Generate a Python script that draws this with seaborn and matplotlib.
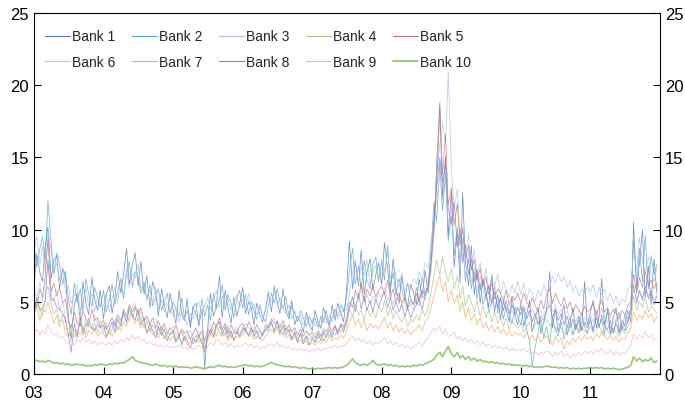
import numpy as np
import pandas as pd
import matplotlib
matplotlib.use("Agg")
import matplotlib.pyplot as plt
from matplotlib.lines import Line2D
import seaborn as sns

# Semi-monthly observations, Jan 2003 - Dec 2011 (24 per year)
dates = pd.date_range("2003-01-01", periods=216, freq="SMS")

bank1 = [
    6.1, 8.3, 7.0, 6.4, 8.9, 10.2, 6.6, 7.9, 8.2, 5.9, 7.3, 6.8, 3.9, 2.4, 4.8, 5.6, 3.7, 6.4, 4.9, 4.1, 6.7, 5.2, 4.4, 5.8,
    3.8, 5.5, 6.1, 4.2, 5.3, 7.1, 5.6, 6.9, 8.7, 6.2, 7.6, 8.4, 6.1, 7.8, 5.5, 6.8, 4.6, 6.4, 5.7, 4.0, 5.9, 4.8, 3.9, 5.6,
    4.4, 3.5, 5.8, 4.1, 3.7, 5.2, 3.2, 4.6, 4.9, 3.3, 4.5, 0.4, 3.1, 5.6, 4.0, 4.7, 6.8, 3.9, 5.8, 4.6, 3.5, 5.3, 4.0, 4.8,
    6.0, 4.2, 5.0, 4.6, 3.4, 4.9, 4.1, 3.6, 4.5, 5.7, 4.3, 6.1, 5.0, 4.2, 5.9, 4.4, 3.8, 5.1, 3.4, 4.0, 3.6, 2.9, 4.3, 3.5,
    3.0, 4.4, 3.6, 3.2, 4.6, 3.9, 3.3, 4.8, 3.7, 4.9, 4.2, 3.6, 6.0, 9.2, 5.9, 7.8, 6.1, 8.6, 5.5, 7.0, 8.0, 5.8, 6.9, 7.7,
    6.2, 9.1, 7.3, 5.6, 8.0, 6.0, 4.9, 6.8, 5.4, 4.6, 6.2, 5.7, 4.8, 6.6, 5.3, 7.2, 5.6, 7.4, 9.8, 14.5, 18.8, 12.2, 15.1, 9.6,
    12.6, 7.4, 9.9, 6.3, 12.6, 7.8, 6.1, 8.9, 5.5, 7.2, 4.9, 6.6, 5.8, 4.6, 6.9, 4.3, 5.5, 3.8, 5.0, 4.5, 3.6, 5.3, 4.0, 3.4,
    4.9, 3.3, 4.2, 5.1, 2.9, 3.8, 4.6, 2.8, 3.6, 4.4, 7.1, 3.2, 4.5, 2.9, 3.9, 4.8, 2.7, 3.5, 4.6, 3.1, 4.0, 3.0, 6.4, 3.4,
    4.3, 5.1, 3.2, 4.0, 6.6, 3.4, 4.4, 2.8, 3.9, 4.6, 2.9, 3.7, 3.3, 4.4, 3.6, 10.5, 5.8, 7.7, 10.0, 5.3, 7.5, 4.8, 8.0, 5.6,
]
bank2 = [
    9.0, 7.4, 8.7, 9.5, 7.8, 12.0, 9.1, 6.9, 8.4, 7.6, 6.2, 7.1, 5.2, 4.1, 6.3, 4.9, 5.9, 4.4, 6.6, 5.5, 4.7, 6.0, 5.3, 4.6,
    5.8, 4.3, 5.1, 6.2, 4.8, 5.7, 6.6, 5.2, 6.9, 7.8, 6.0, 7.1, 6.7, 5.6, 6.4, 5.1, 6.2, 4.7, 5.3, 5.9, 4.4, 5.0, 5.6, 4.2,
    5.0, 4.5, 4.0, 5.3, 3.9, 4.4, 3.5, 4.7, 4.1, 3.6, 5.2, 4.0, 4.8, 3.7, 5.6, 4.5, 5.1, 6.2, 4.4, 5.5, 4.9, 3.9, 5.2, 5.8,
    4.6, 5.5, 4.1, 5.0, 4.4, 3.8, 4.8, 4.0, 3.6, 4.7, 5.6, 4.9, 5.9, 5.0, 4.5, 5.4, 4.0, 4.7, 4.2, 3.6, 4.4, 3.9, 3.3, 4.0,
    3.5, 3.9, 3.2, 4.0, 3.6, 4.4, 3.4, 3.9, 4.5, 4.0, 4.8, 4.3, 5.4, 7.1, 8.7, 6.2, 7.5, 5.8, 7.9, 6.5, 5.9, 7.6, 8.1, 6.4,
    7.8, 6.5, 8.9, 6.1, 7.0, 5.4, 6.6, 5.9, 5.0, 6.3, 5.2, 4.8, 6.0, 5.1, 6.7, 5.5, 6.3, 8.4, 11.9, 10.6, 14.6, 11.3, 13.9, 9.2,
    11.0, 8.2, 10.1, 7.5, 9.4, 6.4, 8.0, 5.9, 7.1, 5.2, 6.3, 4.8, 5.6, 4.3, 5.0, 6.1, 4.2, 5.3, 3.8, 4.7, 4.1, 3.5, 4.6, 3.9,
    3.4, 4.5, 3.0, 2.3, 0.6, 1.7, 2.9, 3.8, 2.5, 3.3, 2.1, 3.9, 3.1, 2.6, 3.6, 2.4, 3.2, 4.0, 2.7, 3.5, 2.9, 4.2, 3.3, 2.8,
    3.9, 2.9, 4.4, 3.3, 3.8, 2.7, 4.5, 3.2, 2.8, 3.7, 4.3, 3.0, 4.1, 3.5, 4.8, 9.3, 6.1, 8.7, 6.4, 9.6, 5.9, 8.2, 6.9, 7.6,
]
bank3 = [
    8.4, 9.5, 7.6, 8.8, 7.2, 9.9, 8.5, 7.0, 7.7, 6.5, 7.4, 5.6, 6.1, 4.9, 5.5, 6.2, 4.4, 5.1, 5.9, 4.7, 5.6, 4.3, 5.4, 5.0,
    4.7, 5.6, 4.3, 5.2, 6.0, 4.9, 6.5, 5.4, 7.3, 6.0, 7.0, 6.6, 7.6, 5.9, 6.3, 5.3, 5.8, 5.0, 6.0, 4.5, 5.1, 4.3, 4.9, 4.6,
    4.0, 4.6, 3.6, 4.3, 3.9, 3.4, 4.2, 3.8, 4.4, 5.0, 4.1, 4.7, 5.3, 4.5, 5.1, 5.8, 4.6, 5.4, 4.8, 5.2, 4.4, 4.9, 5.5, 4.6,
    5.2, 4.6, 5.6, 4.3, 4.9, 4.1, 4.6, 3.9, 4.5, 5.3, 5.0, 5.8, 4.7, 5.3, 4.6, 4.2, 4.8, 3.8, 4.4, 3.6, 4.1, 3.4, 3.9, 3.3,
    3.8, 3.3, 3.6, 3.1, 3.9, 3.5, 4.0, 3.6, 4.3, 3.8, 4.1, 4.6, 4.4, 5.6, 7.1, 7.9, 6.3, 7.4, 6.8, 7.9, 6.2, 7.0, 7.5, 6.6,
    8.0, 7.1, 8.4, 6.6, 7.5, 6.9, 6.0, 7.0, 5.6, 6.3, 5.9, 6.6, 6.2, 7.1, 6.5, 7.7, 7.3, 9.1, 10.4, 13.6, 15.9, 17.4, 16.0, 20.9,
    14.2, 11.5, 12.8, 9.3, 10.2, 8.0, 9.7, 7.2, 8.6, 6.7, 7.7, 6.2, 7.3, 5.8, 6.8, 6.1, 6.9, 5.5, 6.4, 5.9, 5.3, 6.2, 5.6, 6.4,
    5.5, 6.3, 5.2, 5.9, 5.6, 5.0, 5.8, 5.4, 6.2, 5.7, 6.0, 6.8, 6.3, 7.0, 6.4, 6.7, 6.0, 6.5, 5.7, 6.1, 5.4, 5.9, 5.6, 6.0,
    5.7, 6.2, 5.3, 6.0, 5.5, 5.9, 5.1, 5.6, 4.9, 5.4, 4.7, 5.2, 5.0, 5.8, 6.1, 8.6, 7.2, 9.4, 7.8, 7.0, 8.1, 6.9, 6.4, 7.3,
]
bank4 = [
    4.3, 5.0, 4.6, 4.0, 5.3, 6.1, 4.8, 4.2, 4.5, 3.6, 4.1, 3.7, 2.6, 3.4, 3.0, 2.7, 3.6, 3.2, 2.8, 3.9, 3.1, 3.5, 2.9, 3.3,
    2.9, 3.4, 2.7, 3.1, 3.7, 3.0, 3.5, 4.1, 3.6, 4.4, 3.9, 4.6, 3.7, 4.0, 3.2, 3.7, 2.9, 3.4, 3.1, 2.7, 3.3, 2.5, 2.9, 2.7,
    3.0, 2.4, 2.7, 2.9, 2.3, 2.6, 2.4, 2.1, 2.7, 2.5, 2.2, 1.9, 2.5, 2.9, 3.2, 2.6, 3.3, 3.0, 2.7, 3.2, 2.5, 2.8, 3.1, 2.6,
    2.9, 3.2, 2.6, 3.0, 2.8, 2.5, 3.0, 2.6, 3.1, 3.0, 3.5, 2.9, 3.3, 3.1, 2.7, 3.2, 2.8, 2.5, 2.9, 2.4, 2.8, 2.3, 2.6, 2.4,
    2.6, 2.2, 2.5, 2.7, 2.3, 2.8, 2.6, 2.9, 2.7, 3.1, 2.9, 3.2, 3.4, 4.5, 4.0, 4.8, 4.1, 4.4, 3.7, 4.6, 4.0, 4.4, 3.9, 4.7,
    4.3, 5.1, 4.0, 4.7, 3.8, 4.4, 3.9, 3.6, 4.1, 3.3, 3.8, 3.6, 4.1, 3.7, 4.5, 4.0, 4.6, 5.6, 6.8, 7.9, 6.9, 8.1, 7.0, 6.4,
    7.3, 5.9, 6.8, 5.2, 6.1, 4.7, 5.5, 5.0, 4.3, 5.1, 4.0, 4.7, 3.9, 4.4, 3.6, 4.3, 3.5, 4.0, 3.3, 3.9, 3.1, 3.7, 3.4, 3.2,
    3.5, 2.9, 3.3, 3.6, 3.0, 3.4, 3.7, 3.1, 3.5, 3.8, 3.3, 3.6, 3.0, 3.5, 3.1, 2.8, 3.4, 3.0, 2.7, 3.3, 2.8, 3.2, 3.0, 2.8,
    3.3, 2.9, 3.1, 3.4, 2.8, 3.2, 3.0, 2.7, 3.2, 2.9, 2.6, 3.1, 2.8, 3.3, 3.6, 5.4, 4.4, 5.0, 4.6, 5.3, 4.3, 4.7, 4.5, 4.2,
]
bank5 = [
    5.1, 4.6, 5.9, 5.3, 6.8, 9.3, 5.7, 6.3, 5.4, 6.0, 4.9, 5.2, 3.7, 3.2, 4.3, 3.6, 3.3, 4.4, 3.8, 3.4, 4.5, 3.7, 3.9, 3.3,
    3.7, 3.1, 3.5, 3.9, 3.3, 4.1, 3.7, 4.5, 4.0, 4.8, 4.3, 4.7, 4.1, 4.6, 3.7, 4.0, 3.5, 3.9, 3.2, 3.7, 3.0, 3.5, 2.8, 3.2,
    2.9, 3.4, 2.6, 3.1, 2.8, 3.0, 2.4, 2.8, 3.2, 2.6, 3.0, 2.3, 3.1, 2.8, 3.6, 3.2, 3.9, 3.1, 3.5, 2.8, 3.4, 3.0, 2.8, 3.3,
    3.5, 3.0, 3.6, 3.2, 2.9, 3.4, 3.0, 2.7, 3.4, 3.2, 3.8, 3.5, 3.6, 3.2, 3.7, 3.0, 3.4, 2.9, 3.2, 2.7, 3.1, 2.6, 3.0, 2.7,
    2.9, 2.5, 3.0, 2.6, 3.1, 2.9, 3.3, 3.0, 3.4, 2.9, 3.5, 3.3, 3.8, 5.0, 4.6, 5.8, 5.2, 6.3, 5.0, 5.9, 5.4, 6.2, 5.3, 5.8,
    6.1, 5.5, 6.5, 5.3, 5.9, 5.0, 5.6, 4.9, 5.3, 4.5, 5.1, 4.8, 5.6, 5.0, 5.8, 5.4, 6.2, 7.6, 10.9, 13.1, 18.3, 13.8, 16.6, 11.7,
    12.9, 10.3, 11.8, 8.9, 10.0, 8.1, 8.9, 7.2, 7.9, 6.5, 7.3, 6.0, 6.7, 5.5, 6.3, 5.2, 5.9, 5.6, 5.0, 5.8, 4.8, 5.4, 5.1, 5.6,
    4.9, 5.6, 5.0, 4.6, 5.3, 4.8, 4.3, 5.1, 4.5, 5.5, 5.9, 4.9, 5.6, 5.1, 4.7, 5.3, 4.5, 5.0, 4.2, 4.8, 4.4, 4.1, 4.7, 4.3,
    4.5, 4.9, 4.1, 4.7, 5.1, 4.3, 4.6, 4.0, 4.5, 4.2, 3.8, 4.4, 4.1, 4.7, 5.0, 6.9, 5.6, 6.7, 6.0, 7.1, 6.1, 6.5, 5.9, 6.3,
]
bank6 = [
    5.9, 5.2, 6.4, 5.0, 6.3, 7.6, 5.5, 5.0, 5.8, 4.4, 5.1, 3.8, 3.5, 3.1, 3.9, 3.4, 4.1, 3.0, 3.8, 3.6, 3.3, 4.1, 3.4, 3.7,
    3.1, 3.6, 3.2, 3.0, 3.7, 4.1, 3.5, 4.4, 4.0, 3.7, 4.7, 4.9, 4.0, 4.3, 3.6, 3.9, 3.3, 3.6, 3.9, 3.0, 3.3, 3.5, 2.8, 3.1,
    3.3, 2.7, 2.9, 3.1, 2.5, 2.8, 3.0, 2.4, 2.6, 2.9, 2.6, 2.1, 3.0, 3.4, 2.8, 3.2, 3.6, 3.1, 2.9, 3.4, 2.7, 3.0, 3.3, 2.8,
    3.0, 3.5, 3.2, 2.9, 3.3, 2.8, 3.1, 2.7, 3.4, 3.0, 3.6, 3.9, 3.2, 3.5, 3.0, 3.4, 2.9, 3.1, 2.7, 3.0, 2.6, 2.9, 2.5, 2.7,
    2.6, 2.9, 2.5, 2.8, 2.7, 3.1, 2.6, 3.0, 3.3, 2.9, 3.4, 3.1, 3.9, 4.4, 5.4, 4.7, 5.2, 5.8, 4.9, 5.5, 4.8, 5.4, 5.0, 5.7,
    5.2, 6.0, 5.1, 5.6, 4.8, 5.3, 5.0, 4.6, 5.1, 4.4, 4.9, 4.5, 5.2, 4.7, 5.5, 5.1, 6.3, 7.0, 9.8, 12.1, 13.7, 11.9, 13.9, 10.4,
    11.5, 8.7, 10.2, 7.4, 9.1, 6.6, 8.5, 6.3, 7.4, 5.6, 6.8, 5.9, 5.1, 6.2, 4.7, 5.6, 5.0, 4.5, 5.4, 4.6, 4.9, 4.2, 4.7, 4.4,
    4.8, 4.3, 4.6, 4.0, 4.5, 4.1, 3.8, 4.4, 4.0, 4.6, 5.1, 4.3, 4.8, 4.1, 4.5, 3.9, 4.4, 3.8, 4.2, 3.6, 4.1, 3.5, 3.9, 3.7,
    4.1, 3.6, 4.4, 3.8, 4.6, 3.9, 3.6, 4.0, 3.5, 3.8, 3.3, 3.7, 3.5, 3.9, 4.5, 5.9, 5.2, 5.7, 5.3, 6.1, 5.4, 5.8, 5.1, 5.5,
]
bank7 = [
    4.0, 4.8, 3.7, 4.5, 4.3, 5.0, 4.2, 3.5, 4.1, 3.3, 3.8, 2.8, 2.6, 2.9, 2.5, 3.1, 2.7, 3.3, 2.5, 3.0, 2.8, 3.2, 2.6, 2.9,
    2.8, 2.5, 3.0, 2.6, 2.9, 3.3, 3.0, 3.6, 3.3, 3.9, 4.2, 3.5, 3.8, 3.2, 3.5, 2.9, 3.2, 2.7, 3.0, 2.5, 2.9, 2.4, 2.7, 2.3,
    2.6, 2.3, 2.5, 2.2, 2.6, 2.0, 2.3, 2.1, 2.4, 2.2, 2.5, 1.7, 2.3, 2.8, 2.5, 3.3, 2.9, 2.6, 2.8, 2.3, 2.7, 2.4, 2.6, 2.5,
    2.7, 3.0, 2.6, 2.8, 2.4, 2.6, 2.5, 2.3, 2.6, 2.9, 3.1, 2.8, 3.2, 2.7, 2.9, 2.5, 2.7, 2.3, 2.6, 2.2, 2.4, 2.1, 2.3, 2.0,
    2.2, 2.0, 2.3, 2.1, 2.4, 2.2, 2.6, 2.3, 2.5, 2.4, 2.7, 2.5, 3.0, 3.6, 4.1, 3.4, 3.8, 3.2, 3.7, 3.0, 3.5, 3.2, 3.4, 3.1,
    3.5, 3.9, 3.2, 3.6, 3.0, 3.4, 2.9, 3.2, 2.8, 3.1, 2.7, 3.0, 3.1, 3.4, 3.0, 3.6, 3.9, 4.6, 5.4, 6.2, 6.8, 5.7, 6.4, 5.0,
    5.8, 4.9, 5.5, 4.3, 5.0, 3.9, 4.6, 3.7, 4.2, 3.4, 3.9, 3.2, 3.6, 3.0, 3.4, 2.9, 3.3, 2.8, 3.1, 2.7, 3.0, 2.6, 2.9, 2.7,
    2.8, 2.5, 2.9, 2.4, 2.7, 2.3, 2.6, 2.2, 2.5, 2.6, 2.3, 2.0, 2.6, 2.2, 2.5, 1.7, 2.3, 2.0, 2.5, 2.2, 2.6, 2.3, 2.7, 2.4,
    2.6, 2.3, 2.8, 2.5, 2.9, 2.6, 2.4, 2.7, 2.3, 2.6, 2.2, 2.5, 2.4, 2.8, 3.2, 4.3, 3.7, 4.1, 3.8, 4.4, 3.9, 4.2, 3.6, 4.0,
]
bank8 = [
    4.0, 5.3, 4.4, 4.6, 5.0, 7.9, 5.1, 5.2, 4.6, 4.5, 4.2, 3.8, 2.7, 1.5, 3.5, 2.5, 3.9, 2.7, 3.5, 3.3, 3.2, 3.0, 3.4, 3.2,
    3.4, 2.6, 3.1, 3.6, 2.9, 3.8, 3.3, 4.3, 3.6, 4.6, 4.1, 3.7, 4.5, 3.4, 3.9, 2.8, 3.5, 3.0, 2.5, 3.3, 2.7, 3.1, 2.3, 2.8,
    2.9, 2.2, 2.7, 2.0, 2.6, 2.3, 1.8, 2.5, 2.2, 2.7, 2.1, 1.5, 2.6, 3.1, 2.6, 3.4, 3.6, 2.7, 3.3, 2.5, 3.0, 2.3, 2.9, 2.6,
    3.2, 3.0, 2.7, 3.2, 2.6, 3.0, 2.4, 2.8, 3.0, 3.4, 3.6, 3.0, 3.7, 2.8, 3.4, 2.7, 3.1, 2.4, 2.9, 2.2, 2.8, 2.1, 2.6, 2.0,
    2.5, 2.2, 2.8, 2.3, 2.9, 2.5, 3.1, 2.5, 3.3, 2.7, 3.4, 2.9, 3.7, 4.6, 5.3, 4.3, 5.6, 4.5, 5.4, 4.4, 5.1, 4.3, 5.2, 4.6,
    5.3, 5.7, 4.6, 5.3, 4.4, 5.0, 4.3, 4.8, 4.0, 4.6, 3.9, 4.4, 4.8, 5.1, 4.5, 5.4, 6.1, 7.7, 10.2, 12.9, 15.0, 13.3, 14.5, 11.5,
    10.4, 11.9, 8.8, 10.1, 7.7, 9.0, 6.9, 8.0, 6.4, 7.2, 5.8, 6.6, 5.3, 6.1, 4.9, 5.7, 4.6, 5.3, 4.4, 5.1, 4.2, 4.8, 4.1, 4.6,
    4.1, 4.7, 3.8, 4.4, 3.6, 4.2, 3.4, 4.0, 3.7, 4.4, 4.8, 3.9, 4.5, 3.7, 4.2, 3.4, 4.0, 3.2, 3.8, 3.1, 3.7, 3.0, 3.6, 3.2,
    3.7, 3.0, 3.9, 3.2, 4.1, 3.3, 3.1, 3.7, 2.9, 3.5, 2.8, 3.4, 3.0, 3.7, 4.3, 6.2, 4.9, 5.8, 5.1, 6.1, 5.2, 5.8, 4.8, 5.4,
]
bank9 = [
    2.9, 3.1, 2.7, 3.0, 2.8, 3.4, 2.9, 2.7, 2.8, 2.5, 2.6, 2.3, 2.1, 2.3, 2.0, 2.4, 2.2, 2.5, 2.2, 2.4, 2.1, 2.3, 2.0, 2.2,
    2.1, 2.0, 2.2, 2.0, 2.3, 2.1, 2.4, 2.2, 2.5, 2.3, 2.7, 2.4, 2.6, 2.3, 2.4, 2.1, 2.2, 2.0, 2.1, 1.9, 2.0, 1.8, 2.0, 1.8,
    1.9, 1.8, 2.0, 1.8, 1.9, 1.7, 1.9, 1.7, 1.8, 2.0, 1.8, 1.6, 1.9, 2.2, 2.0, 2.4, 2.3, 2.0, 2.2, 1.9, 2.1, 1.8, 2.0, 1.9,
    2.0, 2.2, 1.9, 2.1, 1.8, 2.0, 1.7, 1.9, 1.8, 2.0, 2.1, 1.9, 2.2, 1.9, 2.0, 1.8, 1.9, 1.7, 1.8, 1.6, 1.8, 1.6, 1.7, 1.5,
    1.7, 1.6, 1.8, 1.6, 1.8, 1.7, 1.9, 1.8, 2.0, 1.8, 2.0, 1.9, 2.1, 2.4, 2.6, 2.3, 2.5, 2.2, 2.4, 2.1, 2.3, 2.0, 2.2, 2.1,
    2.3, 2.5, 2.1, 2.3, 2.0, 2.2, 1.9, 2.1, 1.8, 2.0, 1.7, 1.9, 2.0, 2.2, 1.9, 2.3, 2.5, 2.9, 3.2, 3.0, 3.3, 2.8, 3.1, 2.6,
    2.7, 2.9, 2.4, 2.6, 2.3, 2.5, 2.2, 2.4, 2.1, 2.3, 2.0, 2.2, 1.9, 2.1, 1.8, 2.0, 1.8, 1.9, 1.7, 1.9, 1.6, 1.8, 1.6, 1.7,
    1.6, 1.8, 1.5, 1.7, 1.4, 1.6, 1.3, 1.5, 1.4, 1.6, 1.5, 1.2, 1.5, 1.3, 1.6, 1.2, 1.4, 1.1, 1.4, 1.2, 1.5, 1.3, 1.6, 1.4,
    1.6, 1.4, 1.7, 1.5, 1.8, 1.5, 1.4, 1.7, 1.3, 1.6, 1.3, 1.5, 1.4, 1.7, 2.0, 2.8, 2.4, 2.7, 2.5, 2.9, 2.5, 2.7, 2.3, 2.5,
]
bank10 = [
    0.90, 0.95, 0.85, 0.90, 0.80, 0.95, 0.85, 0.75, 0.80, 0.70, 0.75, 0.65, 0.70, 0.60, 0.65, 0.70, 0.60, 0.65, 0.55, 0.60, 0.55, 0.65, 0.60, 0.70,
    0.65, 0.60, 0.70, 0.65, 0.75, 0.70, 0.80, 0.75, 0.90, 1.00, 1.20, 0.95, 0.85, 0.80, 0.75, 0.70, 0.65, 0.60, 0.70, 0.60, 0.55, 0.60, 0.50, 0.55,
    0.50, 0.55, 0.45, 0.50, 0.45, 0.50, 0.40, 0.45, 0.50, 0.45, 0.40, 0.35, 0.45, 0.50, 0.45, 0.55, 0.60, 0.50, 0.55, 0.45, 0.50, 0.45, 0.50, 0.55,
    0.60, 0.65, 0.55, 0.60, 0.50, 0.55, 0.50, 0.55, 0.60, 0.70, 0.80, 0.70, 0.65, 0.60, 0.55, 0.50, 0.55, 0.45, 0.50, 0.45, 0.40, 0.45, 0.40, 0.35,
    0.40, 0.35, 0.40, 0.35, 0.40, 0.40, 0.45, 0.40, 0.45, 0.40, 0.45, 0.50, 0.60, 0.80, 1.05, 0.80, 0.65, 0.60, 0.70, 0.60, 0.75, 0.95, 0.70, 0.60,
    0.65, 0.70, 0.60, 0.65, 0.55, 0.60, 0.50, 0.55, 0.50, 0.55, 0.50, 0.60, 0.55, 0.65, 0.60, 0.70, 0.80, 0.90, 1.00, 1.30, 1.50, 1.20, 1.60, 1.90,
    1.40, 1.20, 1.50, 1.10, 1.30, 1.00, 1.20, 0.95, 1.10, 0.90, 1.00, 0.85, 0.90, 0.80, 0.85, 0.75, 0.80, 0.70, 0.75, 0.65, 0.70, 0.60, 0.65, 0.60,
    0.60, 0.55, 0.60, 0.50, 0.55, 0.45, 0.50, 0.45, 0.50, 0.55, 0.50, 0.45, 0.50, 0.40, 0.45, 0.40, 0.45, 0.35, 0.40, 0.35, 0.40, 0.35, 0.40, 0.40,
    0.45, 0.40, 0.45, 0.40, 0.45, 0.35, 0.40, 0.35, 0.40, 0.35, 0.30, 0.35, 0.40, 0.45, 0.60, 1.20, 0.90, 1.10, 0.85, 1.00, 0.90, 1.10, 0.80, 0.90,
]

banks = ["Bank 1", "Bank 2", "Bank 3", "Bank 4", "Bank 5",
         "Bank 6", "Bank 7", "Bank 8", "Bank 9", "Bank 10"]
series = [bank1, bank2, bank3, bank4, bank5, bank6, bank7, bank8, bank9, bank10]
colors = ["#5679b3", "#5aa4c8", "#a9c0e2", "#a8c38c", "#c27272",
          "#c3c3e2", "#f2a86a", "#8181c4", "#f0b3c0", "#8dbb67"]
year_labels = ["03", "04", "05", "06", "07", "08", "09", "10", "11"]

long = pd.concat(
    [pd.DataFrame({"date": dates, "value": vals, "bank": name})
     for name, vals in zip(banks, series)],
    ignore_index=True,
)

sns.set_style("ticks")
plt.rcParams["font.family"] = ["Liberation Sans", "DejaVu Sans"]

fig = plt.figure(figsize=(6.85, 4.06), dpi=100)
ax = fig.add_axes([34 / 685, 31 / 406, 626 / 685, 361 / 406])

for name, col in zip(banks, colors):
    lw = 1.2 if name == "Bank 10" else 0.5
    sns.lineplot(data=long[long["bank"] == name], x="date", y="value",
                 color=col, lw=lw, alpha=0.85, legend=False, ax=ax)

ax.set_xlim(pd.Timestamp("2003-01-01"), pd.Timestamp("2012-01-01"))
ax.set_ylim(0, 25)
ax.set_xlabel("")
ax.set_ylabel("")

ticks = pd.date_range("2003-01-01", periods=9, freq="YS")
ax.set_xticks(ticks)
ax.set_xticklabels(year_labels)
ax.set_yticks([0, 5, 10, 15, 20, 25])
ax.set_yticklabels(["0", "5", "10", "15", "20", "25"])
ax.tick_params(axis="both", direction="in", length=5, width=0.8,
               labelsize=12, colors="black")
ax.tick_params(axis="y", right=True, labelright=True)
ax.tick_params(axis="x", pad=8)
for s in ax.spines.values():
    s.set_visible(True)
    s.set_color("black")
    s.set_linewidth(0.8)

# legend filled row by row: five banks per row
keys = [Line2D([], [], color=c, lw=1.2 if n == "Bank 10" else 0.8)
        for n, c in zip(banks, colors)]
order = [0, 5, 1, 6, 2, 7, 3, 8, 4, 9]
ax.legend([keys[i] for i in order], [banks[i] for i in order],
          loc="upper left", ncol=5, frameon=False, fontsize=10,
          handlelength=1.8, handletextpad=0.15, columnspacing=1.2,
          labelspacing=0.85, borderaxespad=0.5,
          bbox_to_anchor=(-0.003, 0.989))

fig.savefig("out.png", dpi=100)
